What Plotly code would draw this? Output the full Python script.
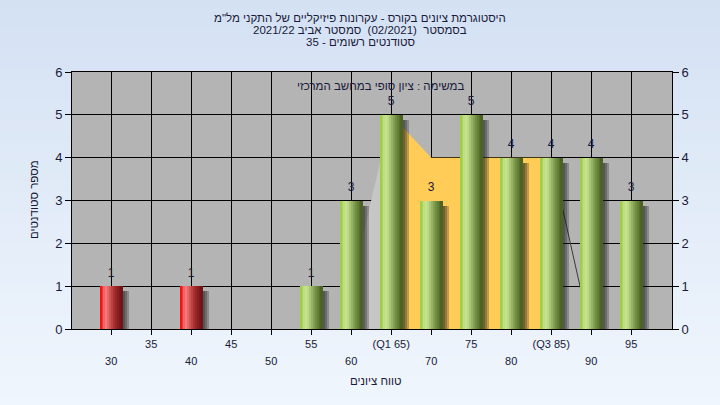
import plotly.graph_objects as go

# ---------------- data ----------------
grades = [30, 40, 55, 60, 65, 70, 75, 80, 85, 90, 95]
counts = [1, 1, 1, 3, 5, 3, 5, 4, 4, 4, 3]
pass_grade = 55

iqr_x = [65, 70, 75, 80, 85]
iqr_y = [5, 4, 4, 4, 4]

rise_x = [60, 65]
rise_y = [1, 5]

fall_x = [85, 89.8]
fall_y = [4, 0]

row1_vals = [35, 45, 55, 65, 75, 85, 95]
row1_text = ["35", "45", "55", "(Q1 65)", "75", "(Q3 85)", "95"]
row2_vals = [30, 40, 50, 60, 70, 80, 90]
row2_text = ["30", "40", "50", "60", "70", "80", "90"]
all_ticks = [30, 35, 40, 45, 50, 55, 60, 65, 70, 75, 80, 85, 90, 95]

title_lines = [
    'היסטוגרמת ציונים בקורס - עקרונות פיזיקליים של התקני מל"מ',
    "בסמסטר  (02/2021)  סמסטר אביב 2021/22",
    "סטודנטים רשומים - 35",
]
inner_title = "במשימה : ציון סופי במחשב המרכזי"
x_title = "טווח ציונים"
y_title = "מספר סטודנטים"

# ---------------- styling ----------------
FONT = "Liberation Sans, DejaVu Sans, sans-serif"
TXT = "#1a1a3a"
XR = [25.1, 100.1]
YR = [0, 6]
W = 2.9

green = ["#a0ce48", "#acd660", "#bcdf80", "#c6e490", "#bcd988", "#aac676",
         "#96b262", "#83a050", "#728e42", "#637e36", "#57712c", "#4b6424"]
red = ["#f21414", "#f43a3a", "#f26464", "#f07a7a", "#e46a6a", "#d05454",
       "#bc4040", "#a83030", "#982626", "#881e1e", "#7c1a1a", "#701616"]

fig = go.Figure()

# light rising area
fig.add_trace(go.Scatter(x=rise_x, y=rise_y, mode="lines", line=dict(width=0),
                         fill="tozeroy", fillcolor="#c6c6c6", hoverinfo="skip"))
# orange IQR area
fig.add_trace(go.Scatter(x=iqr_x, y=iqr_y, mode="lines", line=dict(width=0),
                         fill="tozeroy", fillcolor="#ffcc58", hoverinfo="skip"))
# dark falling line
fig.add_trace(go.Scatter(x=fall_x, y=fall_y, mode="lines",
                         line=dict(color="#3a3a3a", width=1), hoverinfo="skip"))

# shadows (overlay subplot so bars sit above the areas)
for ext in [0.8, 0.55, 0.3]:
    fig.add_trace(go.Bar(x=grades, y=[c - 0.12 for c in counts],
                         offset=-W / 2 + 0.6, width=W - 0.6 + ext,
                         marker=dict(color="rgba(25,25,25,0.27)", line=dict(width=0)),
                         xaxis="x2", yaxis="y2", hoverinfo="skip"))

# cylinder bars from nested slices
N = len(green)
d = W / N
for i in range(N):
    cols = [red[i] if g < pass_grade else green[i] for g in grades]
    fig.add_trace(go.Bar(x=grades, y=counts, offset=-W / 2 + i * d, width=W - i * d,
                         marker=dict(color=cols, line=dict(width=0)),
                         xaxis="x2", yaxis="y2", hoverinfo="skip"))

# value labels
fig.add_trace(go.Scatter(x=grades, y=counts, mode="markers+text",
                         text=[str(c) for c in counts], textposition="top center",
                         marker=dict(size=9, opacity=0),
                         textfont=dict(family=FONT, size=12, color=TXT),
                         xaxis="x2", yaxis="y2", hoverinfo="skip"))

# background gradient + plot area
shapes = []
nstrip = 40
top_c = (212, 225, 243)
bot_c = (240, 246, 253)
y_top = 1 + 72 / 257 + 0.01
y_bot = -76 / 257 - 0.01
for k in range(nstrip):
    t = k / (nstrip - 1)
    c = tuple(round(top_c[j] + (bot_c[j] - top_c[j]) * t) for j in range(3))
    y1 = y_top - (y_top - y_bot) * k / nstrip
    y0 = y_top - (y_top - y_bot) * (k + 1) / nstrip - 0.002
    shapes.append(dict(type="rect", xref="paper", yref="paper", x0=-0.13, x1=1.09,
                       y0=y0, y1=y1, fillcolor="rgb(%d,%d,%d)" % c,
                       line=dict(width=0), layer="below"))
shapes.append(dict(type="rect", xref="paper", yref="paper", x0=0, x1=1, y0=0, y1=1,
                   fillcolor="#b4b4b4", line=dict(width=0), layer="below"))

annotations = []
for j, line in enumerate(title_lines):
    ypix = 18 + j * 12
    annotations.append(dict(xref="paper", yref="paper", x=(360 - 72) / 600,
                            y=(329 - ypix) / 257, text=line, showarrow=False,
                            xanchor="center", yanchor="middle",
                            font=dict(family=FONT, size=11.5, color=TXT)))
annotations.append(dict(xref="paper", yref="paper", x=(380 - 72) / 600, y=(329 - 86) / 257,
                        text=inner_title, showarrow=False, xanchor="center",
                        yanchor="middle", font=dict(family=FONT, size=11.5, color=TXT)))
annotations.append(dict(xref="paper", yref="paper", x=(376 - 72) / 600, y=(329 - 381) / 257,
                        text=x_title, showarrow=False, xanchor="center",
                        yanchor="middle", font=dict(family=FONT, size=11.5, color=TXT)))
annotations.append(dict(xref="paper", yref="paper", x=(34 - 72) / 600, y=(329 - 200) / 257,
                        text=y_title, showarrow=False, xanchor="center", textangle=-90,
                        yanchor="middle", font=dict(family=FONT, size=11.5, color=TXT)))

fig.update_layout(
    width=720, height=405,
    margin=dict(l=72, r=48, t=72, b=76),
    paper_bgcolor="#e4edf8", plot_bgcolor="rgba(0,0,0,0)",
    barmode="overlay", bargap=0, showlegend=False,
    shapes=shapes, annotations=annotations,
    xaxis=dict(range=XR, tickmode="array", tickvals=all_ticks,
               ticktext=[row1_text[row1_vals.index(v)] if v in row1_vals else "" for v in all_ticks],
               ticks="outside", ticklen=5, tickcolor="black",
               showline=True, linecolor="black", mirror=True, linewidth=1,
               showgrid=True, gridcolor="black", gridwidth=1, zeroline=False,
               tickfont=dict(family=FONT, size=11, color=TXT)),
    xaxis2=dict(range=XR, overlaying="x", anchor="y", side="bottom",
                tickmode="array", tickvals=row2_vals, ticktext=row2_text,
                ticks="", showgrid=False, showline=False, zeroline=False,
                ticklabelstandoff=24,
                tickfont=dict(family=FONT, size=11, color=TXT)),
    yaxis=dict(range=YR, tickmode="linear", dtick=1, ticks="outside", ticklen=6,
               tickcolor="black", showline=True, linecolor="black", mirror=True,
               showgrid=True, gridcolor="black", gridwidth=1, zeroline=False,
               tickfont=dict(family=FONT, size=13, color=TXT)),
    yaxis2=dict(range=YR, overlaying="y", anchor="x", side="right", tickmode="linear",
                dtick=1, ticks="outside", ticklen=6, tickcolor="black",
                showgrid=False, zeroline=False, showline=False,
                tickfont=dict(family=FONT, size=13, color=TXT)),
)

fig.write_html("out.html", config={"displayModeBar": False},
               post_script="document.body.style.margin='0';")
